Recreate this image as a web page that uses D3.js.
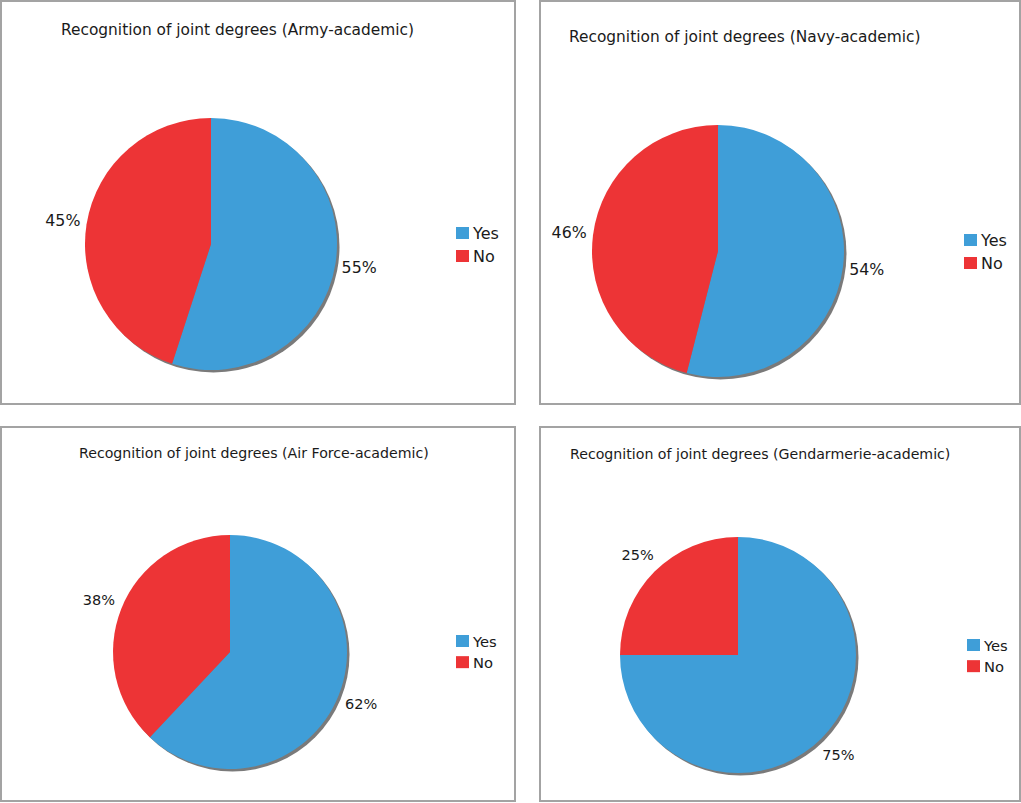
<!DOCTYPE html>
<html>
<head>
<meta charset="utf-8">
<script src="https://cdn.jsdelivr.net/npm/d3@7"></script>
<style>
  html, body { margin: 0; padding: 0; background: #fff; }
  svg { display: block; }
  text { font-family: "DejaVu Sans", Verdana, sans-serif; fill: #1a1a1a; }
</style>
</head>
<body>
<svg id="chart" width="1021" height="803"></svg>
<script>
// ---- data ----
const titles = [
  "Recognition of joint degrees (Army-academic)",
  "Recognition of joint degrees (Navy-academic)",
  "Recognition of joint degrees (Air Force-academic)",
  "Recognition of joint degrees (Gendarmerie-academic)"
];
const categories = ["Yes", "No"];
const yesValues = [55, 54, 62, 75];
const noValues  = [45, 46, 38, 25];
const colors = ["#3f9ed8", "#ed3436"];

// ---- layout (positions/styles, not data) ----
const layout = [
  { box: [1, 1, 514, 403],     title: [61, 30],  cx: 211, cy: 244, r: 126, legend: [456, 233], s: 1 },
  { box: [540, 1, 480, 403],   title: [569, 37], cx: 718, cy: 251, r: 126, legend: [964, 240], s: 1 },
  { box: [1, 427, 514, 374],   title: [79, 453], cx: 230, cy: 652, r: 117, legend: [456, 641], s: 0.92 },
  { box: [540, 427, 480, 374], title: [570, 454], cx: 738, cy: 655, r: 118, legend: [967, 645], s: 0.92 }
];

const svg = d3.select("#chart");
const color = d3.scaleOrdinal().domain(categories).range(colors);
const pie = d3.pie().sort(null).value(d => d.value);

titles.forEach((t, i) => {
  const L = layout[i];
  const g = svg.append("g");
  g.append("rect")
    .attr("x", L.box[0]).attr("y", L.box[1])
    .attr("width", L.box[2]).attr("height", L.box[3])
    .attr("fill", "#fff").attr("stroke", "#a3a3a3").attr("stroke-width", 2);

  g.append("text")
    .attr("x", L.title[0]).attr("y", L.title[1])
    .attr("dominant-baseline", "central")
    .style("font-size", (15.4 * L.s) + "px")
    .text(t);

  const data = categories.map((c, k) => ({ cat: c, value: k === 0 ? yesValues[i] : noValues[i] }));
  const arcs = pie(data);
  const arc = d3.arc().innerRadius(0).outerRadius(L.r);
  const labelArc = d3.arc().innerRadius(L.r + 24).outerRadius(L.r + 24);

  const pg = g.append("g").attr("transform", `translate(${L.cx},${L.cy})`);
  // shadow
  pg.append("path")
    .attr("d", d3.arc().innerRadius(0).outerRadius(L.r)({ startAngle: 0, endAngle: 2 * Math.PI }))
    .attr("transform", "translate(2.5,2.5)")
    .attr("fill", "#7a7a7a");
  pg.selectAll("path.slice").data(arcs).join("path")
    .attr("class", "slice")
    .attr("d", arc)
    .attr("fill", d => color(d.data.cat));
  pg.selectAll("text.lbl").data(arcs).join("text")
    .attr("class", "lbl")
    .attr("transform", d => `translate(${labelArc.centroid(d)})`)
    .attr("text-anchor", "middle")
    .attr("dominant-baseline", "central")
    .style("font-size", (15.8 * L.s) + "px")
    .text(d => d.data.value + "%");

  const lg = g.append("g").attr("transform", `translate(${L.legend[0]},${L.legend[1]})`);
  categories.forEach((c, k) => {
    lg.append("rect").attr("x", 0).attr("y", k * 23 * L.s - 6).attr("width", 13).attr("height", 12)
      .attr("fill", color(c));
    lg.append("text").attr("x", 17).attr("y", k * 23 * L.s)
      .attr("dominant-baseline", "central")
      .style("font-size", (16 * L.s) + "px")
      .text(c);
  });
});
</script>
</body>
</html>
